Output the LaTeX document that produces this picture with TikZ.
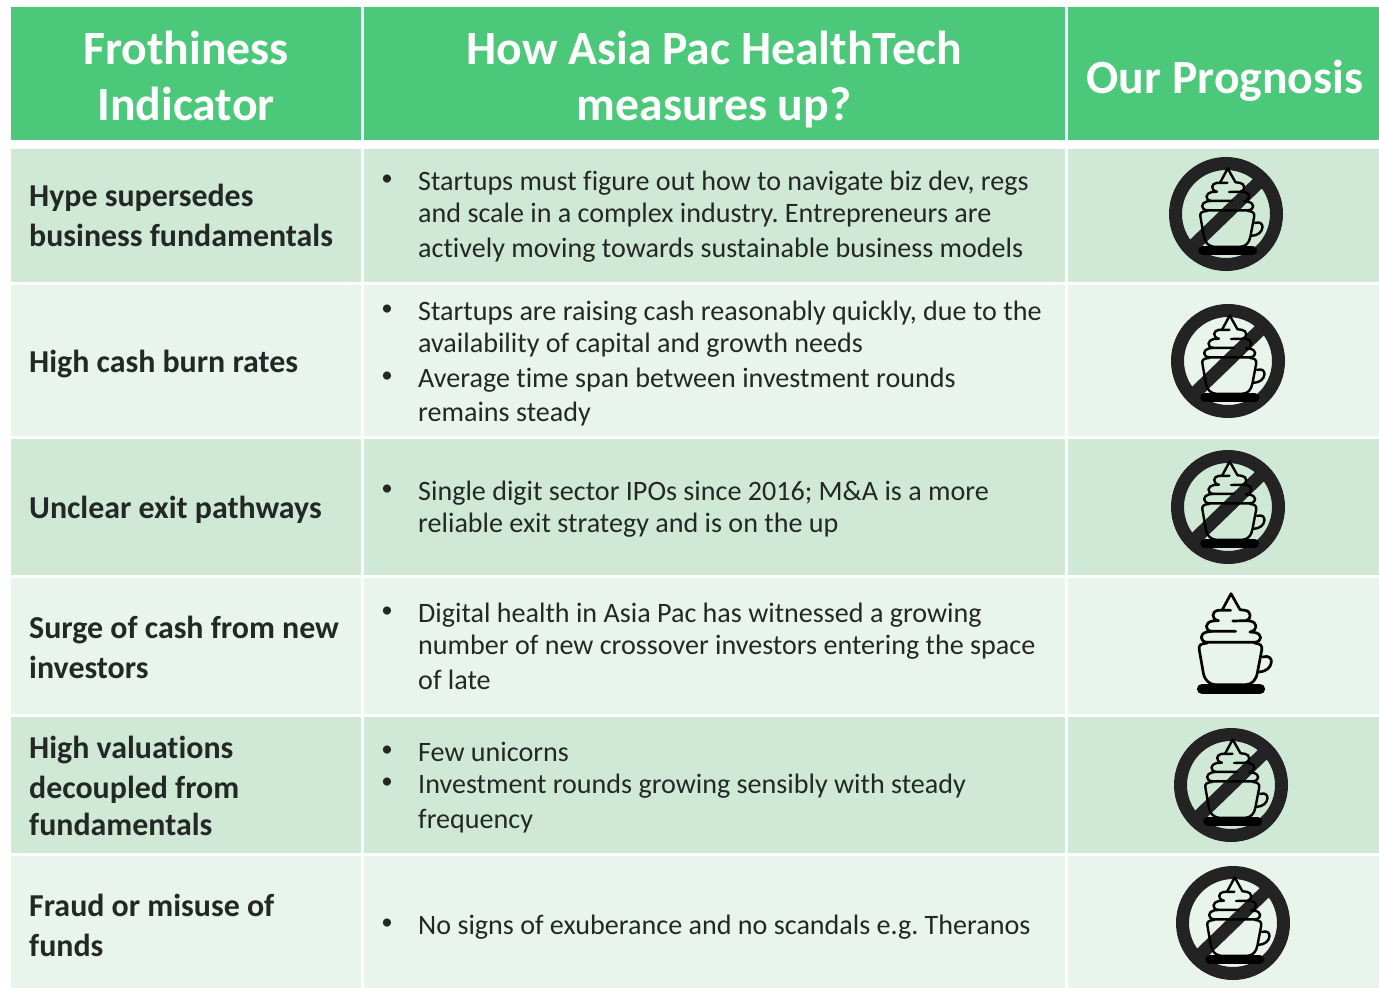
\documentclass[tikz,border=0pt]{standalone}
\usepackage{fontspec}
\setmainfont[Ligatures=NoCommon]{Carlito}
\definecolor{hdr}{HTML}{4CC87A}
\definecolor{banda}{HTML}{D0E9D6}
\definecolor{bandb}{HTML}{E9F4EC}
\definecolor{ink}{HTML}{232826}
\definecolor{ringc}{HTML}{232323}
\tikzset{
  cell/.style={fill=#1,draw=none},
  hdrtext/.style={anchor=base,inner sep=0pt,text=white,font=\fontsize{47.7}{48}\selectfont\bfseries},
  lefttext/.style={anchor=base west,inner sep=0pt,text=ink,font=\fontsize{31.9}{32}\selectfont\bfseries},
  bodytext/.style={anchor=base west,inner sep=0pt,text=ink,font=\fontsize{28.1}{30}\selectfont\frenchspacing},
  bullettext/.style={anchor=base,inner sep=0pt,text=ink,font=\fontsize{23}{24}\selectfont},
  cupicon/.pic={
    \begin{scope}[x=0.3333pt,y=-0.3333pt,shift={(-183,-190)},line width=#1,line join=round,line cap=round,draw=black]
      \draw (157,90)--(183,42)--(210,90)--(225,92) .. controls (245,94) and (245,120) .. (228,123)--(188,124);
      \draw (182,92)--(145,92) .. controls (125,94) and (122,118) .. (145,123);
      \draw (145,123)--(127,124) .. controls (105,128) and (102,152) .. (125,155)--(197,155);
      \draw (228,123)--(240,124) .. controls (264,128) and (264,152) .. (240,157);
      \draw (240,157)--(253,158) .. controls (278,162) and (278,186) .. (253,188)--(112,188);
      \draw (125,155)--(110,157) .. controls (88,162) and (88,186) .. (112,188);
      \draw (112,190) .. controls (92,192) and (84,196) .. (88,212)--(100,280) .. controls (104,302) and (118,314) .. (135,315)--(228,315) .. controls (245,314) and (258,302) .. (262,280)--(275,212) .. controls (278,196) and (270,192) .. (253,190);
      \draw (278,232) .. controls (296,226) and (306,236) .. (304,248) .. controls (302,264) and (288,276) .. (266,277);
      \draw[line width=3.8*#1] (96,328)--(270,328);
    \end{scope}
  },
  nosign/.pic={
    \draw[line width=13pt,draw=ringc] (0,0) circle[radius=50.5pt];
    \draw[line width=13pt,draw=ringc] (44:50pt)--(224:50pt);
    \pic[scale=.86,xshift=2pt,yshift=3.6pt] {cupicon=2.4pt};
  }
}
\begin{document}
\begin{tikzpicture}[x=1pt,y=-1pt]
\useasboundingbox (0,0) rectangle (1379,988);
\fill[white] (0,0) rectangle (1379,988);
% header
\fill[cell=hdr] (11,7) rectangle (361,140);
\fill[cell=hdr] (364,7) rectangle (1065,140);
\fill[cell=hdr] (1068,7) rectangle (1379,140);
% rows
\foreach \ya/\yb/\c in {149/282/banda,285/436/bandb,439/575/banda,578/714/bandb,717/853/banda,856/988/bandb}{
  \fill[cell=\c] (11,\ya) rectangle (361,\yb);
  \fill[cell=\c] (364,\ya) rectangle (1065,\yb);
  \fill[cell=\c] (1068,\ya) rectangle (1379,\yb);
}
% header text
\node[hdrtext] (h1a) at (186,64) {Frothiness};
\node[hdrtext] (h1b) at (186,120) {Indicator};
\node[hdrtext] (h2a) at (714,64) {How Asia Pac HealthTech};
\node[hdrtext] (h2b) at (714,120) {measures up?};
\node[hdrtext] (h3a) at (1225,93) {Our Prognosis};
% left column
\node[lefttext] (l1a) at (29,206) {Hype supersedes};
\node[lefttext] (l1b) at (29,246) {business fundamentals};
\node[lefttext] (l2a) at (29,372) {High cash burn rates};
\node[lefttext] (l3a) at (29,518) {Unclear exit pathways};
\node[lefttext] (l4a) at (29,638) {Surge of cash from new};
\node[lefttext] (l4b) at (29,678) {investors};
\node[lefttext] (l5a) at (29,758) {High valuations};
\node[lefttext] (l5b) at (29,798) {decoupled from};
\node[lefttext] (l5c) at (29,835) {fundamentals};
\node[lefttext] (l6a) at (29,916) {Fraud or misuse of};
\node[lefttext] (l6b) at (29,956) {funds};
% bullets
\foreach \n/\y in {1/190,2/320,3/387,4/500,5/622,6/761,7/793,8/934}{
  \node[bullettext] (b\n) at (387,\y-4.8) {•};
}
% body text
\node[bodytext] (t1a) at (418,190) {Startups must figure out how to navigate biz dev, regs};
\node[bodytext] (t1b) at (418,222) {and scale in a complex industry. Entrepreneurs are};
\node[bodytext] (t1c) at (418,257) {actively moving towards sustainable business models};
\node[bodytext] (t2a) at (418,320) {Startups are raising cash reasonably quickly, due to the};
\node[bodytext] (t2b) at (418,352) {availability of capital and growth needs};
\node[bodytext] (t2c) at (418,387) {Average time span between investment rounds};
\node[bodytext] (t2d) at (418,421) {remains steady};
\node[bodytext] (t3a) at (418,500) {Single digit sector IPOs since 2016; M\&A is a more};
\node[bodytext] (t3b) at (418,532) {reliable exit strategy and is on the up};
\node[bodytext] (t4a) at (418,622) {Digital health in Asia Pac has witnessed a growing};
\node[bodytext] (t4b) at (418,654) {number of new crossover investors entering the space};
\node[bodytext] (t4c) at (418,689) {of late};
\node[bodytext] (t5a) at (418,761) {Few unicorns};
\node[bodytext] (t5b) at (418,793) {Investment rounds growing sensibly with steady};
\node[bodytext] (t5c) at (418,828) {frequency};
\node[bodytext] (t6a) at (418,934) {No signs of exuberance and no scandals e.g. Theranos};
% icons
\pic at (1226,214) {nosign};
\pic at (1228,361) {nosign};
\pic at (1228,507) {nosign};
\pic at (1231,643) {cupicon=2.7pt};
\pic at (1231,785) {nosign};
\pic at (1233,923) {nosign};
\end{tikzpicture}
\end{document}
